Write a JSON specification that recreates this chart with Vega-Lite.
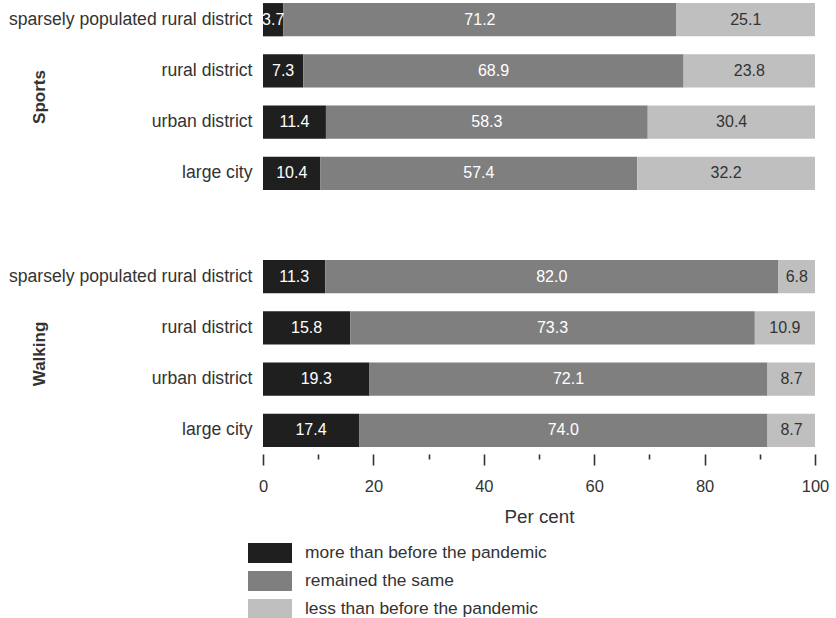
{
  "$schema": "https://vega.github.io/schema/vega-lite/v6.json",
  "padding": {"left": 8, "top": 0, "right": 5, "bottom": 0},
  "config": {"view": {"stroke": null}, "font": "Liberation Sans", "concat": {"spacing": 64}},
  "data": {"values": [
    {"panel": "Sports", "area": "sparsely populated rural district", "category": "more than before the pandemic", "order": 1, "value": 3.7},
    {"panel": "Sports", "area": "sparsely populated rural district", "category": "remained the same", "order": 2, "value": 71.2},
    {"panel": "Sports", "area": "sparsely populated rural district", "category": "less than before the pandemic", "order": 3, "value": 25.1},
    {"panel": "Sports", "area": "rural district", "category": "more than before the pandemic", "order": 1, "value": 7.3},
    {"panel": "Sports", "area": "rural district", "category": "remained the same", "order": 2, "value": 68.9},
    {"panel": "Sports", "area": "rural district", "category": "less than before the pandemic", "order": 3, "value": 23.8},
    {"panel": "Sports", "area": "urban district", "category": "more than before the pandemic", "order": 1, "value": 11.4},
    {"panel": "Sports", "area": "urban district", "category": "remained the same", "order": 2, "value": 58.3},
    {"panel": "Sports", "area": "urban district", "category": "less than before the pandemic", "order": 3, "value": 30.4},
    {"panel": "Sports", "area": "large city", "category": "more than before the pandemic", "order": 1, "value": 10.4},
    {"panel": "Sports", "area": "large city", "category": "remained the same", "order": 2, "value": 57.4},
    {"panel": "Sports", "area": "large city", "category": "less than before the pandemic", "order": 3, "value": 32.2},
    {"panel": "Walking", "area": "sparsely populated rural district", "category": "more than before the pandemic", "order": 1, "value": 11.3},
    {"panel": "Walking", "area": "sparsely populated rural district", "category": "remained the same", "order": 2, "value": 82.0},
    {"panel": "Walking", "area": "sparsely populated rural district", "category": "less than before the pandemic", "order": 3, "value": 6.8},
    {"panel": "Walking", "area": "rural district", "category": "more than before the pandemic", "order": 1, "value": 15.8},
    {"panel": "Walking", "area": "rural district", "category": "remained the same", "order": 2, "value": 73.3},
    {"panel": "Walking", "area": "rural district", "category": "less than before the pandemic", "order": 3, "value": 10.9},
    {"panel": "Walking", "area": "urban district", "category": "more than before the pandemic", "order": 1, "value": 19.3},
    {"panel": "Walking", "area": "urban district", "category": "remained the same", "order": 2, "value": 72.1},
    {"panel": "Walking", "area": "urban district", "category": "less than before the pandemic", "order": 3, "value": 8.7},
    {"panel": "Walking", "area": "large city", "category": "more than before the pandemic", "order": 1, "value": 17.4},
    {"panel": "Walking", "area": "large city", "category": "remained the same", "order": 2, "value": 74.0},
    {"panel": "Walking", "area": "large city", "category": "less than before the pandemic", "order": 3, "value": 8.7}
  ]},
  "transform": [
    {"stack": "value", "groupby": ["panel", "area"], "sort": [{"field": "order", "order": "ascending"}], "as": ["x0", "x1"]},
    {"calculate": "(datum.x0 + datum.x1) / 2", "as": "xmid"}
  ],
  "vconcat": [
    {
      "width": 552, "height": 193,
      "transform": [{"filter": "datum.panel === 'Sports'"}],
      "encoding": {
        "y": {"field": "area", "type": "nominal",
          "sort": ["sparsely populated rural district", "rural district", "urban district", "large city"],
          "scale": {"paddingInner": 0.35, "paddingOuter": 0.06},
          "axis": {"title": "Sports", "titleX": -224, "titleY": 96.5, "titleAngle": -90, "titleAlign": "center", "titleBaseline": "middle",
            "titleFontSize": 17, "titleFontWeight": "bold", "titleColor": "#333",
            "labelFontSize": 17.6, "labelColor": "#333", "labelPadding": 11, "ticks": false, "domain": false, "labelLimit": 400}}
      },
      "layer": [
        {"mark": {"type": "bar"},
         "encoding": {
           "x": {"field": "x0", "type": "quantitative", "scale": {"domain": [0, 100], "clamp": true}, "axis": null},
           "x2": {"field": "x1"},
           "color": {"field": "category", "type": "nominal",
             "scale": {"domain": ["more than before the pandemic", "remained the same", "less than before the pandemic"], "range": ["#1f1f1f", "#7f7f7f", "#bfbfbf"]},
             "legend": {"orient": "none", "legendX": -3, "legendY": 543, "title": null, "direction": "vertical",
               "symbolType": "M-2.2,-1H2.2V1H-2.2Z", "symbolSize": 400, "symbolStrokeWidth": 0,
               "labelFontSize": 17.4, "labelColor": "#333", "rowPadding": 8, "labelOffset": 25, "padding": 0, "labelLimit": 500}}
         }},
        {"mark": {"type": "text", "fontSize": 16},
         "encoding": {
           "x": {"field": "xmid", "type": "quantitative"},
           "text": {"field": "value", "type": "quantitative", "format": ".1f"},
           "color": {"condition": {"test": "datum.order === 3", "value": "#333333"}, "value": "#ffffff"}
         }}
      ]
    },
    {
      "width": 552, "height": 193,
      "transform": [{"filter": "datum.panel === 'Walking'"}],
      "encoding": {
        "y": {"field": "area", "type": "nominal",
          "sort": ["sparsely populated rural district", "rural district", "urban district", "large city"],
          "scale": {"paddingInner": 0.35, "paddingOuter": 0.06},
          "axis": {"title": "Walking", "titleX": -224, "titleY": 96.5, "titleAngle": -90, "titleAlign": "center", "titleBaseline": "middle",
            "titleFontSize": 17, "titleFontWeight": "bold", "titleColor": "#333",
            "labelFontSize": 17.6, "labelColor": "#333", "labelPadding": 11, "ticks": false, "domain": false, "labelLimit": 400}}
      },
      "layer": [
        {"mark": {"type": "bar"},
         "encoding": {
           "x": {"field": "x0", "type": "quantitative", "scale": {"domain": [0, 100], "clamp": true},
             "axis": {"values": [0, 5, 10, 15, 20, 25, 30, 35, 40, 45, 50, 55, 60, 65, 70, 75, 80, 85, 90, 95, 100],
               "labelExpr": "datum.value % 20 === 0 ? datum.label : ''",
               "domain": false, "grid": false, "offset": 4,
               "tickSize": {"condition": {"test": "datum.value % 20 === 0", "value": 11}, "value": 5},
               "tickColor": "#333", "tickWidth": 1.6,
               "labelFontSize": 16.5, "labelColor": "#333", "labelPadding": 13, "labelFlush": false,
               "title": "Per cent", "titleFontSize": 18.8, "titleFontWeight": "normal", "titleColor": "#333", "titlePadding": 13}},
           "x2": {"field": "x1"},
           "color": {"field": "category", "type": "nominal",
             "scale": {"domain": ["more than before the pandemic", "remained the same", "less than before the pandemic"], "range": ["#1f1f1f", "#7f7f7f", "#bfbfbf"]}}
         }},
        {"mark": {"type": "text", "fontSize": 16},
         "encoding": {
           "x": {"field": "xmid", "type": "quantitative"},
           "text": {"field": "value", "type": "quantitative", "format": ".1f"},
           "color": {"condition": {"test": "datum.order === 3", "value": "#333333"}, "value": "#ffffff"}
         }}
      ]
    }
  ],
  "resolve": {"scale": {"color": "shared"}}
}
